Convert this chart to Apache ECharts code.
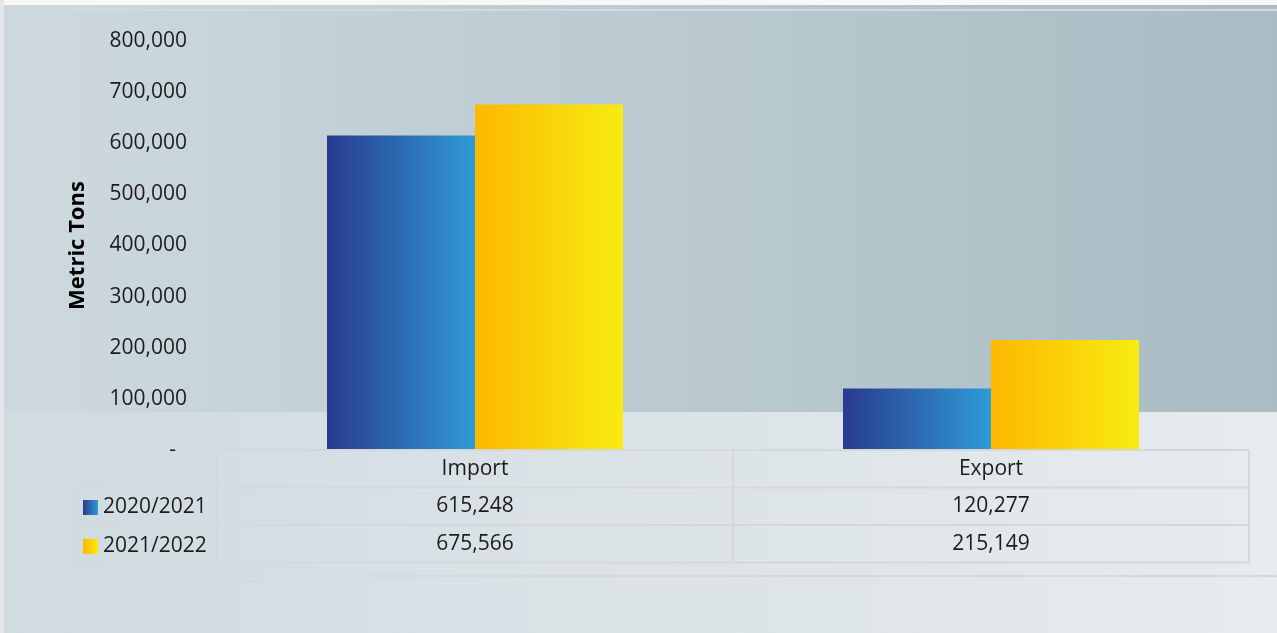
<!DOCTYPE html>
<html>
<head>
<meta charset="utf-8">
<title>Metric Tons – Import / Export</title>
<script src="https://cdn.jsdelivr.net/npm/echarts@6/dist/echarts.min.js"></script>
<style>
  html, body { margin: 0; padding: 0; background: #f7f7f7; }
  #chart { width: 1277px; height: 633px; }
</style>
</head>
<body>
<div id="chart"></div>
<script>
// Trade volumes by marketing year (metric tons)
const categories = ['Import', 'Export'];
const seasons = ['2020/2021', '2021/2022'];
const season2020 = [615248, 120277];
const season2021 = [675566, 215149];
const yMax = 800000;
const yStep = 100000;

const fmt = v => v.toLocaleString('en-US');
const FONT = 'Open Sans';

// plot rectangle
const G = { left: 217, right: 28, top: 41, bottom: 183 };
const W = 1277, H = 633;
const gx0 = G.left, gx1 = W - G.right, gy1 = H - G.bottom;

const blueFill = new echarts.graphic.LinearGradient(0, 0, 1, 0, [
  { offset: 0, color: '#293a8f' }, { offset: 1, color: '#2f9bd7' }
]);
const yellowFill = new echarts.graphic.LinearGradient(0, 0, 1, 0, [
  { offset: 0, color: '#fcb800' }, { offset: 1, color: '#f8ec10' }
]);

const chart = echarts.init(document.getElementById('chart'), null, { renderer: 'canvas' });

// data-table layout
const rowH = 37.5;
const tableLeft = 76;
const rowsY = [gy1, gy1 + rowH, gy1 + 2 * rowH, gy1 + 3 * rowH];
const lineStyle = { stroke: '#d5d8da', lineWidth: 2 };
const colMid = (gx0 + gx1) / 2;

const graphics = [
  // backgrounds
  { type: 'rect', z: -20, silent: true, shape: { x: 0, y: 0, width: 4, height: H }, style: { fill: '#e5e6e7' } },
  { type: 'rect', z: -20, silent: true, shape: { x: 4, y: 5, width: W - 4, height: 407 },
    style: { fill: new echarts.graphic.LinearGradient(0, 0, 1, 0, [
      { offset: 0, color: '#cdd9de' }, { offset: 1, color: '#a9bcc3' }]) } },
  { type: 'rect', z: -20, silent: true, shape: { x: 4, y: 412, width: W - 4, height: H - 412 },
    style: { fill: new echarts.graphic.LinearGradient(0, 0, 1, 0, [
      { offset: 0, color: '#d0dbdf' }, { offset: 1, color: '#e6ebee' }]) } },
  // frame
  { type: 'rect', z: -10, silent: true, shape: { x: 30, y: 10, width: 1300, height: 566 },
    style: { fill: null, stroke: '#d5d9db', lineWidth: 2 } },
  // table horizontal rules
  { type: 'line', z: 10, silent: true, shape: { x1: gx0, y1: rowsY[0], x2: gx1, y2: rowsY[0] }, style: lineStyle },
  { type: 'line', z: 10, silent: true, shape: { x1: tableLeft, y1: rowsY[1], x2: gx1, y2: rowsY[1] }, style: lineStyle },
  { type: 'line', z: 10, silent: true, shape: { x1: tableLeft, y1: rowsY[2], x2: gx1, y2: rowsY[2] }, style: lineStyle },
  { type: 'line', z: 10, silent: true, shape: { x1: tableLeft, y1: rowsY[3], x2: gx1, y2: rowsY[3] }, style: lineStyle },
  // table vertical rules
  { type: 'line', z: 10, silent: true, shape: { x1: tableLeft, y1: rowsY[1], x2: tableLeft, y2: rowsY[3] }, style: lineStyle },
  { type: 'line', z: 10, silent: true, shape: { x1: gx0, y1: rowsY[0], x2: gx0, y2: rowsY[3] }, style: lineStyle },
  { type: 'line', z: 10, silent: true, shape: { x1: colMid, y1: rowsY[0], x2: colMid, y2: rowsY[3] }, style: lineStyle },
  { type: 'line', z: 10, silent: true, shape: { x1: gx1, y1: rowsY[0], x2: gx1, y2: rowsY[3] }, style: lineStyle }
];

chart.setOption({
  animation: false,
  textStyle: { fontFamily: FONT },
  graphic: graphics,
  grid: G,
  legend: {
    orient: 'vertical',
    left: 83,
    top: 497,
    padding: 0,
    itemWidth: 15,
    itemHeight: 15,
    itemGap: 18,
    itemTextGap: 6,
    icon: 'rect',
    selectedMode: false,
    data: seasons,
    textStyle: { fontFamily: FONT, fontSize: 21, color: '#1c1c1c', lineHeight: 16 }
  },
  xAxis: {
    type: 'category',
    data: categories,
    axisLine: { show: false },
    axisTick: { show: false },
    splitLine: { show: false },
    axisLabel: {
      margin: 0,
      fontFamily: FONT,
      fontSize: 21,
      color: '#1c1c1c',
      lineHeight: rowH,
      formatter: (v, i) => [v, fmt(season2020[i]), fmt(season2021[i])].join('\n')
    }
  },
  yAxis: {
    type: 'value',
    min: 0,
    max: yMax,
    interval: yStep,
    name: 'Metric Tons',
    nameLocation: 'middle',
    nameGap: 128,
    nameTextStyle: { fontFamily: FONT, fontSize: 22, fontWeight: 'bold', color: '#000' },
    axisLine: { show: false },
    axisTick: { show: false },
    splitLine: { show: false },
    axisLabel: {
      margin: 30,
      fontFamily: FONT,
      fontSize: 21,
      color: '#1c1c1c',
      formatter: v => v === 0 ? '{z|-}' : fmt(v),
      rich: { z: { fontFamily: FONT, fontSize: 21, color: '#1c1c1c', padding: [0, 11, 0, 0] } }
    }
  },
  series: [
    { name: seasons[0], type: 'bar', data: season2020, barWidth: 148, barGap: '0%',
      itemStyle: { color: blueFill } },
    { name: seasons[1], type: 'bar', data: season2021, barWidth: 148, barGap: '0%',
      itemStyle: { color: yellowFill } }
  ]
});
</script>
</body>
</html>
